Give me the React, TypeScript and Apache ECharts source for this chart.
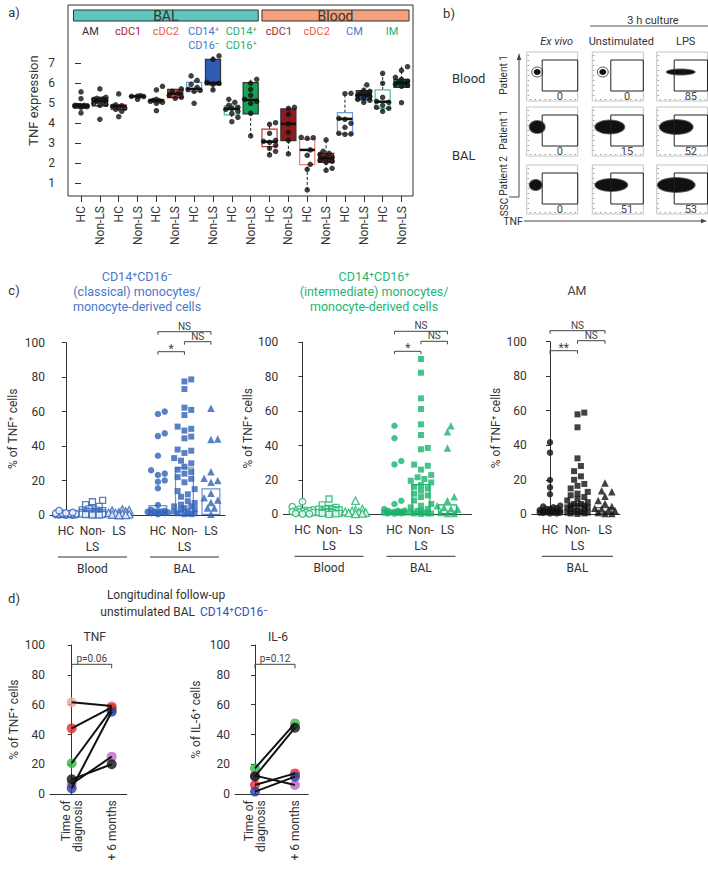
import React, { useEffect, useRef } from "react";
import * as echarts from "echarts";

const FONT = "Roboto, 'Noto Sans', 'DejaVu Sans', sans-serif";
const INK = "#333333";

// ---------------- Panel a: TNF expression ----------------
const aCategories = ["HC", "Non-LS", "HC", "Non-LS", "HC", "Non-LS", "HC", "Non-LS", "HC", "Non-LS", "HC", "Non-LS", "HC", "Non-LS", "HC", "Non-LS", "HC", "Non-LS"];
const aGroupLabels = [["AM"], ["cDC1"], ["cDC2"], ["CD14⁺", "CD16⁻"], ["CD14⁺", "CD16⁺"], ["cDC1"], ["cDC2"], ["CM"], ["IM"]];
const aTissueLabels = ["BAL", "Blood"];
const aTissueGroups = [[0, 4], [5, 8]];
const aYTicks = [1, 2, 3, 4, 5, 6, 7];
// [lower whisker, q1, median, q3, upper whisker]
const aBoxStats = [
  [4.8, 4.84, 4.88, 4.93, 4.98],
  [4.8, 4.87, 5.1, 5.25, 5.35],
  [4.6, 4.7, 4.85, 4.92, 4.95],
  [5.33, 5.34, 5.35, 5.37, 5.38],
  [5.0, 5.1, 5.15, 5.2, 5.25],
  [5.25, 5.28, 5.48, 5.7, 5.72],
  [5.55, 5.58, 5.72, 6.05, 6.15],
  [5.67, 5.92, 6.02, 7.2, 7.37],
  [4.3, 4.42, 4.72, 4.87, 5.05],
  [3.37, 4.47, 5.17, 6.03, 6.2],
  [2.42, 2.83, 3.08, 3.71, 4.03],
  [2.47, 3.13, 3.97, 4.72, 4.8],
  [0.67, 1.93, 2.67, 3.2, 3.28],
  [1.65, 2.05, 2.25, 2.5, 3.17],
  [3.45, 3.47, 4.22, 4.53, 5.5],
  [5.05, 5.17, 5.42, 5.63, 5.92],
  [4.6, 4.75, 5.08, 5.67, 6.5],
  [5.8, 5.8, 6.03, 6.2, 6.83],
];
const aPoints = [
  [5.57, 5.23, 4.9, 4.88, 4.87, 4.86, 4.85, 4.85, 4.83, 4.9, 4.52, 4.8],
  [5.72, 5.3, 5.25, 5.2, 5.15, 5.1, 5.05, 5.0, 4.95, 5.18, 5.22, 4.9, 4.2],
  [5.47, 4.92, 4.88, 4.85, 4.8, 4.75, 4.7, 4.6, 4.33],
  [5.38, 5.36, 5.35, 5.34, 5.2],
  [5.85, 5.67, 5.2, 5.15, 5.12, 5.1, 5.05, 5.0, 4.63],
  [5.72, 5.6, 5.5, 5.4, 5.3, 5.25],
  [6.37, 6.15, 5.95, 5.8, 5.7, 5.65, 5.6, 5.0],
  [7.37, 7.2, 6.05, 6.0, 5.95, 5.67],
  [5.2, 5.05, 4.9, 4.8, 4.75, 4.7, 4.6, 4.5, 4.3, 4.08],
  [6.2, 6.0, 5.7, 5.4, 5.2, 5.1, 5.0, 4.5, 3.37],
  [4.03, 3.95, 3.5, 3.15, 3.1, 3.05, 2.9, 2.75, 2.6, 2.42],
  [4.8, 4.75, 4.45, 3.97, 3.55, 3.15, 2.47],
  [3.3, 3.28, 3.25, 2.67, 2.4, 1.95, 1.7, 0.67],
  [3.17, 2.6, 2.5, 2.45, 2.35, 2.3, 2.25, 2.2, 2.15, 2.1, 2.05, 1.75, 1.65],
  [5.5, 5.48, 4.25, 4.2, 4.0, 3.8, 3.5, 3.47, 3.45],
  [5.92, 5.65, 5.6, 5.5, 5.45, 5.4, 5.35, 5.3, 5.2, 5.15, 5.05],
  [6.5, 6.0, 5.3, 5.1, 5.05, 4.9, 4.8, 4.75, 4.6],
  [6.83, 6.65, 6.3, 6.2, 6.1, 6.05, 6.0, 5.95, 5.9, 5.85, 5.03],
];
const aLabelColors = ["#333333", "#a3262a", "#ef5a48", "#4a78c8", "#22b070", "#a3262a", "#ef5a48", "#4a78c8", "#22b070"];
const aOutlineColors = ["#222222", "#b3393a", "#f07a6c", "#7199da", "#4cc28c", "#b3393a", "#f07a6c", "#7199da", "#4cc28c"];
const aFillColors = ["#ffffff", "#9b1d20", "#e8432f", "#2f5cb0", "#13a457", "#8f1a1d", "#e8412e", "#3061b5", "#13a457"];
const aTissueColors = ["#5cc7bc", "#f5a17e"];

// ---------------- Panel b: flow cytometry ----------------
const bColumns = ["Ex vivo", "Unstimulated", "LPS"];
const bRowPatients = ["Patient 1", "Patient 1", "Patient 2"];
const bTissues = ["Blood", "BAL"];
const bPercents = [[0, 0, 85], [0, 15, 52], [0, 51, 53]];
// population extent within each plot: [start, end, half-height]
const bPopulations = [
  [[7, 14, 3], [7, 14, 3], [10, 38, 2.5]],
  [[3, 18, 6], [3, 32, 6.5], [3, 36, 7]],
  [[3, 15, 5], [3, 35, 6], [1, 38, 7]],
];

// ---------------- Panel c: % TNF+ cells ----------------
const cPositions = [0, 1, 2, 3.47, 4.47, 5.47];
const cLabels = ["HC", "Non-\nLS", "LS", "HC", "Non-\nLS", "LS"];
const cPositionsAM = [0, 1, 2];
const cLabelsAM = ["HC", "Non-\nLS", "LS"];
const cSites = ["Blood", "BAL"];
const cTitles = [
  ["CD14⁺CD16⁻", "(classical) monocytes/", "monocyte-derived cells"],
  ["CD14⁺CD16⁺", "(intermediate) monocytes/", "monocyte-derived cells"],
  ["AM"],
];
const c1Values = [
  [0, 0, 0.1, 0.2, 0.3, 0.3, 0.4, 0.5, 0.5, 0.6, 0.7, 0.8, 1, 1, 1.2, 1.5, 2.5],
  [8.5, 7.7, 6, 5, 4, 3.5, 3, 2.8, 2.5, 2.2, 2, 2, 1.8, 1.5, 1.5, 1.2, 1, 1, 0.8, 0.7, 0.5, 0.5, 0.3, 0.2, 0, 0],
  [3.2, 2.8, 2.5, 2, 1.5, 1.2, 1, 0.8, 0.5, 0.3, 0.1, 0],
  [60, 58.6, 47.4, 45.8, 34.4, 26, 24, 23.2, 20, 19.3, 15.5, 5.8, 3, 2.5, 2.2, 2, 2, 1.8, 1.5, 1, 1, 0.5],
  [78.7, 77.5, 73.1, 62.3, 61, 58, 51.3, 50, 49, 45.5, 44.5, 38, 37.3, 36, 33, 31.5, 30, 28, 26.3, 25, 24, 22, 21, 19, 15, 13.9, 12, 10.6, 8, 7, 6, 5, 5, 4, 3.5, 3, 2, 2, 1, 1, 0.5, 0.5],
  [61.9, 44.1, 43.8, 25.1, 21.3, 20, 19, 12.6, 10, 8.7, 7.3, 4.1, 4, 0.5],
];
const c1Medians = [0.5, 1.2, 0.8, 5.8, 27.7, 15.5];
const c2Values = [
  [7.3, 4.4, 3, 2.5, 2.2, 2, 2, 1.8, 1.5, 1.2, 1, 1, 0.5, 0.3, 0.2],
  [8.9, 5.5, 4, 3.5, 3, 3, 2.8, 2.5, 2, 2, 1.5, 1.2, 1, 1, 0.5, 0.5, 0.2, 0],
  [7.9, 3, 2.5, 2, 1.5, 1.2, 1, 0.8, 0.5, 0.3],
  [51.5, 44.2, 31, 29, 7.9, 6, 3, 2.2, 2, 2, 1.5, 1.5, 1.2, 1, 1, 1, 0.5, 0.5, 0.3],
  [90.3, 82.3, 67.4, 61.2, 52.3, 46.1, 38.6, 37.8, 28.9, 28.2, 26, 22.8, 21.5, 20.5, 19.5, 18.5, 17, 16, 15, 13.7, 12, 11, 10, 8, 6, 5, 4, 3, 2, 2, 1, 1, 0.5, 0.5, 0.5, 0.2],
  [51.5, 48, 38.6, 10.2, 8, 5, 4, 3.2, 3, 1, 0.5, 0.5],
];
const c2Medians = [1.5, 1.5, 1.0, 1.5, 17.6, 5.8];
const c3Values = [
  [41.7, 35.7, 19.9, 15.6, 11.6, 5, 4.5, 4, 3.5, 3, 3, 2.5, 2.2, 2, 2, 1.5, 1.5, 1.2, 1, 1, 1, 0.8, 0.5, 0.5],
  [58.9, 57.9, 50.4, 32.4, 28, 25, 22, 20, 17.6, 16.5, 15, 13, 12, 11, 10, 9, 8, 7, 6, 6, 5, 5, 5, 4, 4, 3, 3, 2, 2, 1.5, 1, 1, 0.5, 0.5, 0.2],
  [18.2, 13.7, 13, 10.5, 8, 6.2, 4.5, 3.5, 3, 2.5, 2, 1, 0.5, 0.5],
];
const c3Medians = [1.5, 5.5, 4.2];
const cSig = [
  [{ a: 3.47, b: 4.47, level: 0, label: "*" }, { a: 4.47, b: 5.47, level: 1, label: "NS" }, { a: 3.47, b: 5.47, level: 2, label: "NS" }],
  [{ a: 3.47, b: 4.47, level: 0, label: "*" }, { a: 4.47, b: 5.47, level: 1, label: "NS" }, { a: 3.47, b: 5.47, level: 2, label: "NS" }],
  [{ a: 0, b: 1, level: 0, label: "**" }, { a: 1, b: 2, level: 1, label: "NS" }, { a: 0, b: 2, level: 2, label: "NS" }],
];

// ---------------- Panel d: longitudinal follow-up ----------------
const dTimes = [0, 1];
const dTimeLabels = ["Time of\ndiagnosis", "+ 6 months"];
const dPatientColors = ["#f4a3a0", "#e8262b", "#3cb54a", "#111111", "#c064c0", "#2b3a9e"];
const dDrawOrder = [0, 2, 4, 1, 5, 3];
const dTnfDiagnosis = [61.6, 44.2, 20.8, 10.0, 6.9, 4.0];
const dTnf6Months = [59.1, 58.2, 57.0, 20.1, 25.2, 55.3];
const dIl6Diagnosis = [null, 6.2, 17.4, 12.0, 12.5, 1.8];
const dIl66Months = [null, 14.0, 47.5, 44.6, 6.2, 11.8];
const dPValues = ["p=0.06", "p=0.12"];

// ---------------- helpers ----------------
function swarm(values: number[], pxPerY: number, pxPerX: number, d: number, maxPx: number): number[] {
  const order = values.map((_, i) => i).sort((a, b) => values[a] - values[b]);
  const placed: [number, number][] = [];
  const out = new Array(values.length).fill(0);
  const step = d * 0.55;
  const nMax = Math.max(1, Math.floor(maxPx / step));
  for (const i of order) {
    const y = values[i] * pxPerY;
    let bestX = 0;
    let bestScore = -Infinity;
    for (let k = 0; k <= 2 * nMax; k++) {
      const m = Math.ceil(k / 2) * (k % 2 === 1 ? 1 : -1);
      const x = m * step;
      let minD = Infinity;
      for (const [px, py] of placed) {
        const dd = Math.hypot(px - x, py - y);
        if (dd < minD) minD = dd;
      }
      if (minD >= d) { bestX = x; break; }
      if (minD > bestScore) { bestScore = minD; bestX = x; }
    }
    placed.push([bestX, y]);
    out[i] = bestX / pxPerX;
  }
  return out;
}

const labelFor = (positions: number[], labels: string[]) => (v: number) => {
  const i = positions.findIndex((p) => Math.abs(p - v) < 1e-6);
  return i >= 0 ? labels[i] : "";
};

// layout (style only)
const A = { left: 68, top: 5, width: 345, height: 191, xMin: -0.69, xMax: 17.61, yMin: 0.365, yMax: 9.915 };
const C = [
  { left: 50, top: 342.7, width: 175, height: 172.3, min: -0.6, max: 6.0, titleX: 137, color: "#2f62b8", bar: "#6a90d6", titleColor: "#4a78c8", nameGap: 31, name: "% of TNF⁺ cells" },
  { left: 283.3, top: 342.3, width: 188.4, height: 172, min: -0.725, max: 6.385, titleX: 374, color: "#19b36b", bar: "#19b36b", titleColor: "#22b573", nameGap: 25, name: "% of TNF⁺ cells" },
  { left: 531.7, top: 341.7, width: 88.3, height: 172.6, min: -0.665, max: 2.545, titleX: 577, color: "#111111", bar: "#666666", titleColor: "#444444", nameGap: 30, name: "% of TNF⁺ cells" },
];
const D = [
  { left: 50, top: 645, width: 76.7, height: 149.3, min: -0.5425, max: 1.375, title: "TNF", name: "% of TNF⁺ cells", nameGap: 30 },
  { left: 235, top: 645, width: 73.3, height: 149.3, min: -0.5, max: 1.3325, title: "IL-6", name: "% of IL-6⁺ cells", nameGap: 33 },
];

function buildOption(): any {
  const grid: any[] = [];
  const xAxis: any[] = [];
  const yAxis: any[] = [];
  const series: any[] = [];
  const axisText = { color: INK, fontFamily: FONT, fontSize: 12 };

  // ---- panel a
  grid.push({ left: A.left, top: A.top, width: A.width, height: A.height, show: true, borderColor: "#333", borderWidth: 1, containLabel: false, outerBoundsMode: "none" });
  const aIdx = aCategories.map((_, i) => i);
  xAxis.push({
    gridIndex: 0, type: "value", min: A.xMin, max: A.xMax,
    axisLine: { show: false }, splitLine: { show: false },
    axisTick: { show: true, customValues: aIdx, length: 6, lineStyle: { color: "#333" } },
    axisLabel: { ...axisText, customValues: aIdx, rotate: 90, margin: 10, formatter: (v: number) => aCategories[Math.round(v)] },
  });
  yAxis.push({
    gridIndex: 0, type: "value", min: A.yMin, max: A.yMax,
    axisLine: { show: false }, splitLine: { show: false },
    axisTick: { show: true, customValues: aYTicks, length: 6, lineStyle: { color: "#333" } },
    axisLabel: { ...axisText, fontSize: 12, customValues: aYTicks, margin: 13 },
    name: "TNF expression", nameLocation: "middle", nameGap: 28, nameRotate: 90,
    nameTextStyle: { color: INK, fontFamily: FONT, fontSize: 13 },
  });
  series.push({
    type: "custom", xAxisIndex: 0, yAxisIndex: 0, silent: true, z: 2,
    data: aBoxStats.map((s, i) => [i, ...s]),
    encode: { x: 0, y: 3 },
    renderItem: (_p: any, api: any) => {
      const i = api.value(0);
      const mn = api.value(1), q1 = api.value(2), md = api.value(3), q3 = api.value(4), mx = api.value(5);
      const g = Math.floor(i / 2);
      const filled = i % 2 === 1 && g !== 0;
      const x = api.coord([i, md])[0];
      const bw = api.size([1, 0])[0] * 0.8;
      const y = (v: number) => api.coord([i, v])[1];
      const dash = { stroke: "#222", lineWidth: 1, lineDash: [3, 2] };
      return {
        type: "group",
        children: [
          { type: "line", shape: { x1: x, y1: y(mn), x2: x, y2: y(q1) }, style: dash },
          { type: "line", shape: { x1: x, y1: y(q3), x2: x, y2: y(mx) }, style: dash },
          { type: "rect", shape: { x: x - bw / 2, y: y(q3), width: bw, height: Math.max(1, y(q1) - y(q3)) }, style: { fill: filled ? aFillColors[g] : "#ffffff", stroke: filled ? "#333" : aOutlineColors[g], lineWidth: 1.2 } },
          { type: "line", shape: { x1: x - bw / 2, y1: y(md), x2: x + bw / 2, y2: y(md) }, style: { stroke: "#111", lineWidth: 2.5 } },
        ],
      };
    },
  });
  const aPxX = A.width / (A.xMax - A.xMin);
  const aPxY = A.height / (A.yMax - A.yMin);
  const aScatter: number[][] = [];
  aPoints.forEach((vals, i) => {
    const offs = swarm(vals, aPxY, aPxX, 5.5, 7);
    vals.forEach((v, k) => aScatter.push([i + offs[k], v]));
  });
  series.push({ type: "scatter", xAxisIndex: 0, yAxisIndex: 0, silent: true, z: 3, symbol: "circle", symbolSize: 5.5, itemStyle: { color: "#111" }, data: aScatter });

  // ---- panel c
  const cValues = [c1Values, c2Values, c3Values];
  const cMedians = [c1Medians, c2Medians, c3Medians];
  const cSymbols = ["circle", "rect", "triangle"];
  const cSymbolSizes = [6.5, 6, 7.5];
  C.forEach((L, k) => {
    const gi = 1 + k;
    const positions = k === 2 ? cPositionsAM : cPositions;
    const labels = k === 2 ? cLabelsAM : cLabels;
    grid.push({ left: L.left, top: L.top, width: L.width, height: L.height, containLabel: false, outerBoundsMode: "none" });
    xAxis.push({
      gridIndex: gi, type: "value", min: L.min, max: L.max,
      axisLine: { show: true, lineStyle: { color: "#333", width: 1 } }, axisTick: { show: false }, splitLine: { show: false },
      axisLabel: { ...axisText, customValues: positions, margin: 8, lineHeight: 16, formatter: labelFor(positions, labels) },
    });
    yAxis.push({
      gridIndex: gi, type: "value", min: 0, max: 100, interval: 20,
      axisLine: { show: true, lineStyle: { color: "#333", width: 1 } },
      axisTick: { show: true, length: 4, lineStyle: { color: "#333" } }, splitLine: { show: false },
      axisLabel: { ...axisText, margin: 5 },
      name: L.name, nameLocation: "middle", nameGap: L.nameGap, nameRotate: 90,
      nameTextStyle: { color: INK, fontFamily: FONT, fontSize: 12 },
    });
    const meds = cMedians[k];
    series.push({
      type: "bar", xAxisIndex: gi, yAxisIndex: gi, silent: true, z: 1, barWidth: 19,
      data: positions.map((p, i) => [p, meds[i]]),
      itemStyle: { color: "rgba(0,0,0,0)", borderColor: L.bar, borderWidth: 1.2 },
    });
    const pxX = L.width / (L.max - L.min);
    const pxY = L.height / 100;
    cValues[k].forEach((vals, i) => {
      const hollow = k < 2 && i < 3;
      const offs = swarm(vals, pxY, pxX, 6.2, 11);
      series.push({
        type: "scatter", xAxisIndex: gi, yAxisIndex: gi, silent: true, z: 3,
        symbol: cSymbols[i % 3], symbolSize: cSymbolSizes[i % 3],
        itemStyle: hollow ? { color: "#ffffff", borderColor: L.color, borderWidth: 1.3 } : { color: L.color },
        data: vals.map((v, j) => [positions[i] + offs[j], v]),
      });
    });
  });

  // ---- panel d
  const dDiag = [dTnfDiagnosis, dIl6Diagnosis];
  const d6m = [dTnf6Months, dIl66Months];
  D.forEach((L, k) => {
    const gi = 4 + k;
    grid.push({ left: L.left, top: L.top, width: L.width, height: L.height, containLabel: false, outerBoundsMode: "none" });
    xAxis.push({
      gridIndex: gi, type: "value", min: L.min, max: L.max,
      axisLine: { show: true, lineStyle: { color: "#333", width: 1 } }, axisTick: { show: false }, splitLine: { show: false },
      axisLabel: { ...axisText, customValues: dTimes, rotate: 90, margin: 6, lineHeight: 12, formatter: labelFor(dTimes, dTimeLabels) },
    });
    yAxis.push({
      gridIndex: gi, type: "value", min: 0, max: 100, interval: 20,
      axisLine: { show: true, lineStyle: { color: "#333", width: 1 } },
      axisTick: { show: true, length: 4, lineStyle: { color: "#333" } }, splitLine: { show: false },
      axisLabel: { ...axisText, margin: 5 },
      name: L.name, nameLocation: "middle", nameGap: L.nameGap, nameRotate: 90,
      nameTextStyle: { color: INK, fontFamily: FONT, fontSize: 12 },
    });
    const pts: any[] = [];
    dDrawOrder.forEach((p) => {
      const a = dDiag[k][p];
      const b = d6m[k][p];
      if (a == null || b == null) return;
      pts.push({ value: [dTimes[0], a], itemStyle: { color: dPatientColors[p] } });
      pts.push({ value: [dTimes[1], b], itemStyle: { color: dPatientColors[p] } });
      series.push({
        type: "line", xAxisIndex: gi, yAxisIndex: gi, silent: true, z: 4, symbol: "none",
        lineStyle: { color: "#111", width: 2 }, data: [[dTimes[0], a], [dTimes[1], b]],
      });
    });
    series.push({ type: "scatter", xAxisIndex: gi, yAxisIndex: gi, silent: true, z: 3, symbolSize: 10, data: pts });
  });

  return { animation: false, textStyle: { fontFamily: FONT }, grid, xAxis, yAxis, series };
}

function buildGraphics(chart: any): any[] {
  const g: any[] = [];
  const T = (x: number, y: number, text: string, o: any = {}) => {
    const style: any = {
      text, fill: o.color || INK, fontSize: o.size || 12, fontFamily: FONT,
      fontStyle: o.italic ? "italic" : "normal",
      textAlign: o.align || "center", align: o.align || "center",
      textVerticalAlign: o.va || "middle", verticalAlign: o.va || "middle",
    };
    if (o.lh) { style.lineHeight = o.lh; }
    return { type: "text", x, y, rotation: o.rotation || 0, silent: true, z: 10, style };
  };
  const Ln = (x1: number, y1: number, x2: number, y2: number, color = "#333", w = 1) => ({
    type: "line", silent: true, z: 10, shape: { x1, y1, x2, y2 }, style: { stroke: color, lineWidth: w },
  });
  const toPx = (gi: number, x: number, y: number) => chart.convertToPixel({ gridIndex: gi }, [x, y]) as number[];

  // panel labels
  g.push(T(14, 12, "a)", { size: 13 }));
  g.push(T(449, 13, "b)", { size: 13 }));
  g.push(T(14, 290, "c)", { size: 13 }));
  g.push(T(14, 598, "d)", { size: 13 }));

  // ---- panel a decorations
  aTissueLabels.forEach((name, t) => {
    const [g0, g1] = aTissueGroups[t];
    const xl = toPx(0, 2 * g0 - 0.4, 5)[0];
    const xr = toPx(0, 2 * g1 + 1 + 0.4, 5)[0];
    g.push({ type: "rect", silent: true, z: 9, shape: { x: xl, y: 10, width: xr - xl, height: 11 }, style: { fill: aTissueColors[t], stroke: "#333", lineWidth: 1 } });
    g.push(T((xl + xr) / 2, 15.5, name, { size: 14 }));
  });
  aGroupLabels.forEach((lines, gi) => {
    const x = toPx(0, 2 * gi + 0.5, 5)[0];
    lines.forEach((ln, li) => g.push(T(x, 31.5 + li * 13.5, ln, { color: aLabelColors[gi], size: 11 })));
  });

  // ---- panel b (flow plots)
  const bFrameX = [526.7, 592.3, 656.7];
  const bFrameY = [52, 107, 165];
  const bW = 51, bH = 49;
  const gateOff = [15.5, 18.5, 17.5];
  const patientY = [75, 130, 176];
  g.push(T(653, 20, "3 h culture", { size: 11 }));
  g.push(Ln(590, 26, 708, 26, "#555"));
  bColumns.forEach((c, j) => {
    g.push(T(bFrameX[j] + (j === 0 ? 30 : 29), 41, c, { size: 11, italic: j === 0 }));
  });
  g.push(T(452, 78, bTissues[0], { size: 13, align: "left" }));
  g.push(T(452, 155, bTissues[1], { size: 13, align: "left" }));
  bRowPatients.forEach((p, r) => {
    g.push(T(503, patientY[r], p, { size: 10, rotation: Math.PI / 2 }));
    bColumns.forEach((_, j) => {
      const x0 = bFrameX[j], y0 = bFrameY[r];
      const w = Math.min(bW, 707.5 - x0);
      g.push({ type: "rect", silent: true, shape: { x: x0, y: y0, width: w, height: bH }, style: { fill: "#fff", stroke: "#c4c4c4", lineWidth: 1 } });
      g.push({ type: "line", silent: true, shape: { x1: x0 + 1.5, y1: y0 + 3, x2: x0 + 1.5, y2: y0 + bH - 2 }, style: { stroke: "#777", lineWidth: 1, lineDash: [1, 4] } });
      g.push({ type: "line", silent: true, shape: { x1: x0 + 3, y1: y0 + bH - 1.5, x2: x0 + w - 2, y2: y0 + bH - 1.5 }, style: { stroke: "#777", lineWidth: 1, lineDash: [1, 4] } });
      const [s, e, h] = bPopulations[r][j];
      const cx = x0 + (s + e) / 2, cy = y0 + 20, rx = (e - s) / 2;
      if (r === 0 && j < 2) {
        g.push({ type: "ellipse", silent: true, shape: { cx, cy, rx: rx + 2, ry: h + 2 }, style: { fill: "none", stroke: "#555", lineWidth: 1 } });
      } else {
        g.push({ type: "ellipse", silent: true, shape: { cx, cy, rx: rx + 1, ry: h + 1 }, style: { fill: "#666" } });
      }
      g.push({ type: "ellipse", silent: true, shape: { cx, cy, rx, ry: h }, style: { fill: "#111" } });
      const gx = x0 + gateOff[j];
      g.push({ type: "rect", silent: true, z: 5, shape: { x: gx, y: y0 + 8, width: x0 + w - gx, height: 31 }, style: { fill: "none", stroke: "#222", lineWidth: 1 } });
      g.push(T((gx + x0 + w) / 2, y0 + 44, String(bPercents[r][j]), { size: 11, color: "#444" }));
    });
  });
  g.push({ type: "polyline", silent: true, shape: { points: [[509, 197], [519, 197], [519, 57]] }, style: { fill: "none", stroke: "#444", lineWidth: 1 } });
  g.push({ type: "polygon", silent: true, shape: { points: [[516.8, 60], [521.2, 60], [519, 53]] }, style: { fill: "#444" } });
  g.push(T(504, 207, "SSC", { size: 10, rotation: Math.PI / 2 }));
  g.push(T(513, 221, "TNF", { size: 10.5 }));
  g.push(Ln(524, 221, 703, 221, "#444"));
  g.push({ type: "polygon", silent: true, shape: { points: [[701, 218.8], [701, 223.2], [707, 221]] }, style: { fill: "#444" } });

  // ---- panel c decorations
  C.forEach((L, k) => {
    const gi = 1 + k;
    const positions = k === 2 ? cPositionsAM : cPositions;
    const titles = cTitles[k];
    if (titles.length === 3) {
      titles.forEach((t, i) => g.push(T(L.titleX, [276, 291.7, 306.7][i], t, { color: L.titleColor, size: 12.5 })));
    } else {
      g.push(T(L.titleX, 290, titles[0], { color: L.titleColor, size: 12.5 }));
    }
    const yTop = toPx(gi, 0, 100)[1];
    const yBot = toPx(gi, 0, 0)[1];
    cSig[k].forEach((s) => {
      const xa = toPx(gi, s.a, 100)[0];
      const xb = toPx(gi, s.b, 100)[0];
      const y = yTop + 9 - 10 * s.level;
      g.push(Ln(xa, y, xb, y, "#444"));
      g.push(Ln(xa, y, xa, y + 3, "#444"));
      g.push(Ln(xb, y, xb, y + 3, "#444"));
      g.push(T((xa + xb) / 2, s.label === "NS" ? y - 5.5 : y - 3, s.label, { size: s.label === "NS" ? 10 : 12, color: "#444" }));
    });
    const siteList = k === 2 ? [cSites[1]] : cSites;
    siteList.forEach((site, si) => {
      const first = positions[si * 3];
      const last = positions[si * 3 + 2];
      const xl = toPx(gi, first, 0)[0] - 8;
      const xr = toPx(gi, last, 0)[0] + 8;
      g.push(Ln(xl, yBot + 42, xr, yBot + 42, "#333"));
      g.push(T((xl + xr) / 2, yBot + 54, site, { size: 12 }));
    });
  });

  // ---- panel d decorations
  g.push(T(166, 595, "Longitudinal follow-up", { size: 12 }));
  g.push(T(198, 611.7, "unstimulated BAL ", { size: 12, align: "right" }));
  g.push(T(200, 611.7, "CD14⁺CD16⁻", { size: 12, align: "left", color: "#3a4bc0" }));
  D.forEach((L, k) => {
    const gi = 4 + k;
    const x0 = toPx(gi, dTimes[0], 100)[0];
    const x1 = toPx(gi, dTimes[1], 100)[0];
    const yTop = toPx(gi, 0, 100)[1];
    g.push(T((x0 + x1) / 2 + 3, yTop - 8, L.title, { size: 12 }));
    const y = yTop + 19.3;
    g.push(Ln(x0, y, x1, y, "#444"));
    g.push(Ln(x0, y, x0, y + 4, "#444"));
    g.push(Ln(x1, y, x1, y + 4, "#444"));
    g.push(T((x0 + x1) / 2, y - 6, dPValues[k], { size: 10, color: "#444" }));
  });

  return g;
}

export default function App() {
  const ref = useRef<HTMLDivElement>(null);
  useEffect(() => {
    const chart = echarts.init(ref.current!, null, { renderer: "svg", width: 708, height: 869 });
    chart.setOption(buildOption());
    chart.setOption({ graphic: { elements: buildGraphics(chart) } });
    return () => chart.dispose();
  }, []);
  return <div ref={ref} style={{ position: "absolute", left: 0, top: 0, width: 708, height: 869, background: "#fff" }} />;
}
